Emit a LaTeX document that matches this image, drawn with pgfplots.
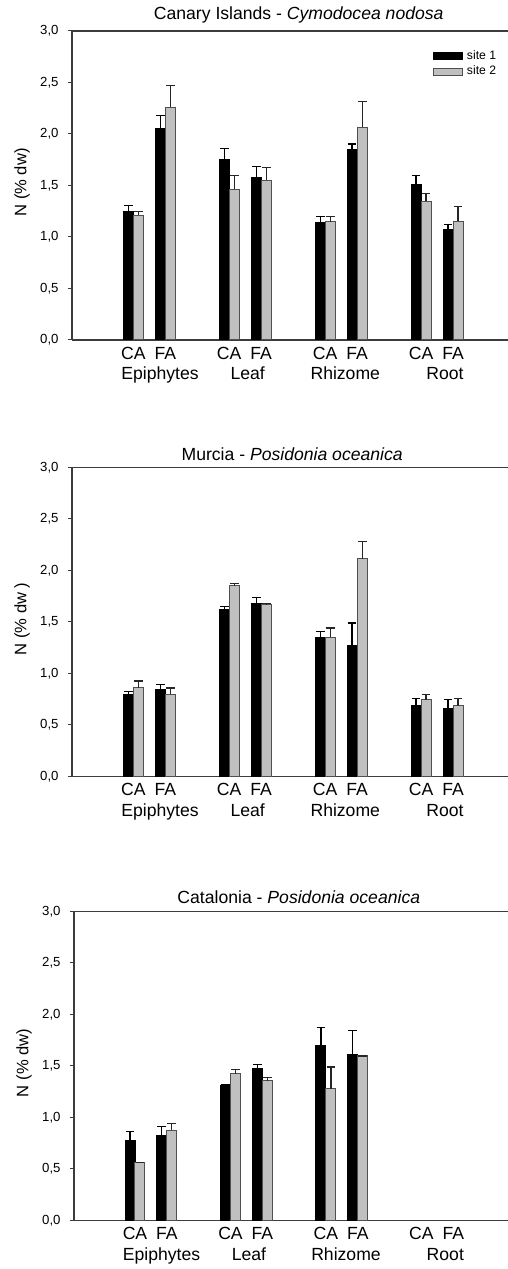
\documentclass[border=0pt]{standalone}
\usepackage{fontspec}
\setmainfont{Liberation Sans}
\usepackage{pgfplots}
\pgfplotsset{compat=1.18}
\usepackage{pgfplotstable}
\definecolor{barg}{RGB}{192,192,192}
\definecolor{barge}{RGB}{80,80,80}
\definecolor{axc}{RGB}{60,60,60}
\newcommand{\tickf}{\fontsize{6.6}{8}\selectfont}
\newcommand{\catf}{\fontsize{8.8}{10}\selectfont}

\pgfplotstableread{
x y e
1 1.250 0.055
2 2.050 0.130
4 1.757 0.104
5 1.573 0.113
7 1.136 0.061
8 1.848 0.055
10 1.505 0.094
11 1.068 0.055
}\canA
\pgfplotstableread{
x y e
1 1.210 0.036
2 2.259 0.211
4 1.463 0.132
5 1.553 0.120
7 1.149 0.048
8 2.065 0.252
10 1.346 0.078
11 1.155 0.139
}\canB
\pgfplotstableread{
x y e
1 0.794 0.033
2 0.846 0.049
4 1.623 0.029
5 1.681 0.059
7 1.345 0.061
8 1.267 0.223
10 0.694 0.061
11 0.658 0.088
}\murA
\pgfplotstableread{
x y e
1 0.862 0.065
2 0.798 0.061
4 1.853 0.022
5 1.672 0.005
7 1.351 0.091
8 2.112 0.171
10 0.743 0.055
11 0.688 0.071
}\murB
\pgfplotstableread{
x y e
1 0.777 0.087
2 0.821 0.088
4 1.313 0.010
5 1.472 0.039
7 1.695 0.182
8 1.615 0.230
}\catA
\pgfplotstableread{
x y e
1 0.563 0
2 0.877 0.061
4 1.423 0.043
5 1.359 0.026
7 1.281 0.210
8 1.598 0
}\catB

\pgfplotsset{
  panel/.style={
    width=218pt, height=154.5pt, scale only axis,
    xmin=-0.917, xmax=12.72, ymin=0, ymax=3,
    clip=false,
    axis x line=bottom, axis y line=left,
    axis line style={-, draw=axc, line width=0.6pt},
    ytick={0,0.5,...,3},
    tick align=outside, major tick length=2.2pt,
    ytick style={draw=axc, line width=0.5pt},
    xtick style={draw=none},
    xtick={1,2,4,5,7,8,10,11},
    xticklabels={CA,FA,CA,FA,CA,FA,CA,FA},
    xticklabel style={font=\catf, anchor=base, yshift=-7.5pt},
    yticklabel style={font=\tickf, anchor=east, xshift=-1pt,
      /pgf/number format/fixed, /pgf/number format/fixed zerofill,
      /pgf/number format/precision=1, /pgf/number format/use comma,
      /pgf/number format/assume math mode=true},
  },
  s1/.style={ybar, bar width=5pt, bar shift=0pt, fill=black, draw=black, line width=0.5pt,
    error bars/y dir=plus, error bars/y explicit,
    error bars/error bar style={black, line width=0.6pt},
    error bars/error mark options={rotate=90, mark size=2.2pt, black, line width=0.6pt}},
  s2/.style={ybar, bar width=5pt, bar shift=0pt, fill=barg, draw=barge, line width=0.5pt,
    error bars/y dir=plus, error bars/y explicit,
    error bars/error bar style={black!85, line width=0.6pt},
    error bars/error mark options={rotate=90, mark size=2.2pt, black!85, line width=0.6pt}},
}
\newcommand{\grouplabels}{%
  \node[font=\catf, anchor=base] at (axis cs:1.835,0) [yshift=-19.8pt] {Epiphytes};
  \node[font=\catf, anchor=base] at (axis cs:4.58,0) [yshift=-19.8pt] {Leaf};
  \node[font=\catf, anchor=base] at (axis cs:7.63,0) [yshift=-19.8pt] {Rhizome};
  \node[font=\catf, anchor=base] at (axis cs:10.75,0) [yshift=-19.8pt] {Root};
  \draw[axc, line width=0.6pt] (rel axis cs:0,1) -- (rel axis cs:1,1);
}
\newcommand{\ylab}[1]{%
  \path (rel axis cs:0,0.51) ++(-25pt,0pt) node[font=\fontsize{8.3}{10}\selectfont, rotate=90] {#1};
}

\begin{document}
\begin{tikzpicture}
\useasboundingbox (0,0) rectangle (254pt,634.5pt);

% Panel 1
\begin{axis}[panel, at={(36pt,464.5pt)}, anchor=south west,
  legend style={at={(rel axis cs:0.827,0.952)}, anchor=north west, draw=none, fill=none,
    inner sep=0pt, font=\fontsize{6.1}{7}\selectfont, row sep=-2pt},
  legend cell align=left]
\addplot[legend image code/.code={\draw[black, fill=black, line width=0.5pt] (0pt,-1.75pt) rectangle (14.5pt,1.75pt);}, s1]
  table[x expr=\thisrow{x}-0.1565, y=y, y error=e] {\canA};
\addlegendentry{site 1}
\addplot[legend image code/.code={\draw[barge, fill=barg, line width=0.5pt] (0pt,-1.75pt) rectangle (14.5pt,1.75pt);}, s2]
  table[x expr=\thisrow{x}+0.1565, y=y, y error=e] {\canB};
\addlegendentry{site 2}
\grouplabels
\node[font=\catf, anchor=base] at (rel axis cs:0.52,1) [yshift=5.5pt] {Canary Islands - \textit{Cymodocea nodosa}};
\ylab{N (\% dw)}
\end{axis}

% Panel 2
\begin{axis}[panel, at={(36pt,246.25pt)}, anchor=south west]
\addplot[s1] table[x expr=\thisrow{x}-0.1565, y=y, y error=e] {\murA};
\addplot[s2] table[x expr=\thisrow{x}+0.1565, y=y, y error=e] {\murB};
\grouplabels
\node[font=\catf, anchor=base] at (rel axis cs:0.505,1) [yshift=3.3pt] {Murcia - \textit{Posidonia oceanica}};
\ylab{N (\% dw )}
\end{axis}

% Panel 3
\begin{axis}[panel, width=217pt, at={(37pt,24.25pt)}, anchor=south west]
\addplot[s1] table[x expr=\thisrow{x}-0.1565, y=y, y error=e] {\catA};
\addplot[s2] table[x expr=\thisrow{x}+0.1565, y=y, y error=e] {\catB};
\grouplabels
\node[font=\catf, anchor=base] at (rel axis cs:0.518,1) [yshift=4.2pt] {Catalonia - \textit{Posidonia oceanica}};
\ylab{N (\% dw)}
\end{axis}
\end{tikzpicture}
\end{document}
